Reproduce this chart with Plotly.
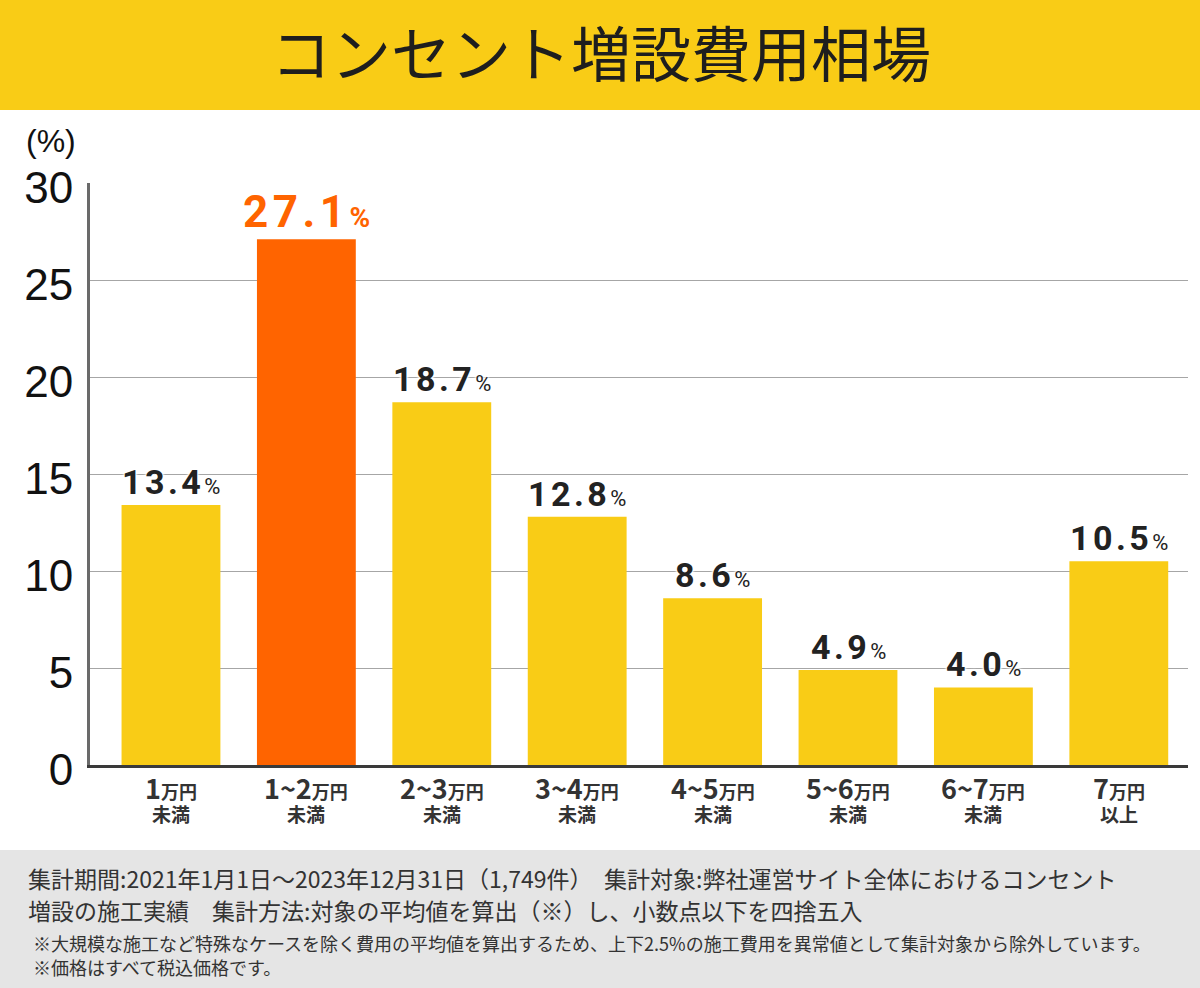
import plotly.graph_objects as go

categories = ["1万円未満", "1~2万円未満", "2~3万円未満", "3~4万円未満",
              "4~5万円未満", "5~6万円未満", "6~7万円未満", "7万円以上"]
label_top = ["1", "1~2", "2~3", "3~4", "4~5", "5~6", "6~7", "7"]
label_bottom = ["未満", "未満", "未満", "未満", "未満", "未満", "未満", "以上"]
values = [13.4, 27.1, 18.7, 12.8, 8.6, 4.9, 4.0, 10.5]
highlight_index = 1
y_ticks = [0, 5, 10, 15, 20, 25, 30]

title_text = "コンセント増設費用相場"
footer_lines = [
    "集計期間:2021年1月1日～2023年12月31日（1,749件）　集計対象:弊社運営サイト全体におけるコンセント",
    "増設の施工実績　集計方法:対象の平均値を算出（※）し、小数点以下を四捨五入",
    "※大規模な施工など特殊なケースを除く費用の平均値を算出するため、上下2.5%の施工費用を異常値として集計対象から除外しています。",
    "※価格はすべて税込価格です。",
]

YELLOW = "#F9CC16"
ORANGE = "#FF6400"
W, H = 1200, 988
L, R, T, B = 90, 1188, 183, 765


def px_x(px):
    return (px - L) / (R - L)


def px_y(py):
    return (B - py) / (B - T)


def spaced(s, sep="\u200a"):
    return sep.join(list(s))


JP = "Noto Sans CJK JP"
colors = [ORANGE if i == highlight_index else YELLOW for i in range(len(values))]
xs = list(range(len(values)))

fig = go.Figure()
fig.add_trace(go.Bar(x=xs, y=values, marker=dict(color=colors, line=dict(width=0)),
                     width=0.73, hoverinfo="skip"))

annotations = []
halo = "0 0 3px white, 0 0 3px white, 0 0 3px white, 0 0 3px white"
for i, v in enumerate(values):
    if i == highlight_index:
        txt = f"<b>{spaced(f'{v:.1f}')}</b>\u200a<span style='font-size:28px'><b>%</b></span>"
        annotations.append(dict(x=i, y=v, xref="x", yref="y", text=txt, showarrow=False,
                                yanchor="bottom", yshift=-1,
                                font=dict(family="Roboto", size=44, color=ORANGE, shadow=halo)))
    else:
        txt = f"<b>{spaced(f'{v:.1f}')}</b>\u200a<span style='font-size:22px'>%</span>"
        annotations.append(dict(x=i, y=v, xref="x", yref="y", text=txt, showarrow=False,
                                yanchor="bottom", yshift=1,
                                font=dict(family="Roboto", size=34, color="#222222", shadow=halo)))
    # x labels (two lines)
    annotations.append(dict(x=i, y=px_y(797), xref="x", yref="paper",
                            text=(f"<span style='font-size:27px'><b>{label_top[i]}</b></span>"
                                  f"<b>万円</b><br><span style='font-size:19px'><b>{label_bottom[i]}</b></span>"),
                            showarrow=False, yanchor="middle",
                            font=dict(family=JP, size=18, color="#333333")))

annotations.append(dict(x=px_x(601), y=px_y(51), xref="paper", yref="paper", text=title_text,
                        showarrow=False, xanchor="center", yanchor="middle",
                        font=dict(family=JP, size=60, color="#1e1e1e", weight=400)))
annotations.append(dict(x=px_x(51), y=px_y(141), xref="paper", yref="paper", text="(%)",
                        showarrow=False, xanchor="center", yanchor="middle",
                        font=dict(family="Liberation Sans", size=32, color="#111111")))

footer_y = [878, 910, 943, 967]
footer_x = [26, 26, 31, 31]
footer_size = [23, 23, 18, 18]
for txt, yy, xx, sz in zip(footer_lines, footer_y, footer_x, footer_size):
    annotations.append(dict(x=px_x(xx), y=px_y(yy), xref="paper", yref="paper", text=txt,
                            showarrow=False, xanchor="left", yanchor="middle",
                            font=dict(family=JP, size=sz, color="#333333")))

shapes = [
    dict(type="rect", xref="paper", yref="paper", x0=px_x(-10), x1=px_x(W + 10),
         y0=px_y(110), y1=px_y(-10), fillcolor=YELLOW, line=dict(width=0), layer="below"),
    dict(type="rect", xref="paper", yref="paper", x0=px_x(-10), x1=px_x(W + 10),
         y0=px_y(H + 10), y1=px_y(850), fillcolor="#E5E5E5", line=dict(width=0), layer="below"),
]

fig.update_layout(
    width=W, height=H, autosize=False,
    margin=dict(l=L, r=W - R, t=T, b=H - B, pad=0),
    paper_bgcolor="white", plot_bgcolor="white",
    showlegend=False, bargap=0.27,
    annotations=annotations, shapes=shapes,
    xaxis=dict(range=[-0.598, 7.511], showticklabels=False, showgrid=False, zeroline=False,
               showline=True, linecolor="#3a3a3a", linewidth=3, fixedrange=True),
    yaxis=dict(range=[0, 30], tickvals=y_ticks, ticktext=[str(t) for t in y_ticks],
               showgrid=True, gridcolor="#a6a6a6", gridwidth=1, zeroline=False,
               showline=True, linecolor="#6a6a6a", linewidth=3, ticks="",
               ticklabelstandoff=5, ticklabelshift=5,
               tickfont=dict(family="Liberation Sans", size=44, color="#111111"), fixedrange=True),
)

fig.write_html("out.html", config={"displayModeBar": False},
               post_script="document.body.style.margin='0';document.body.style.overflow='hidden';")
